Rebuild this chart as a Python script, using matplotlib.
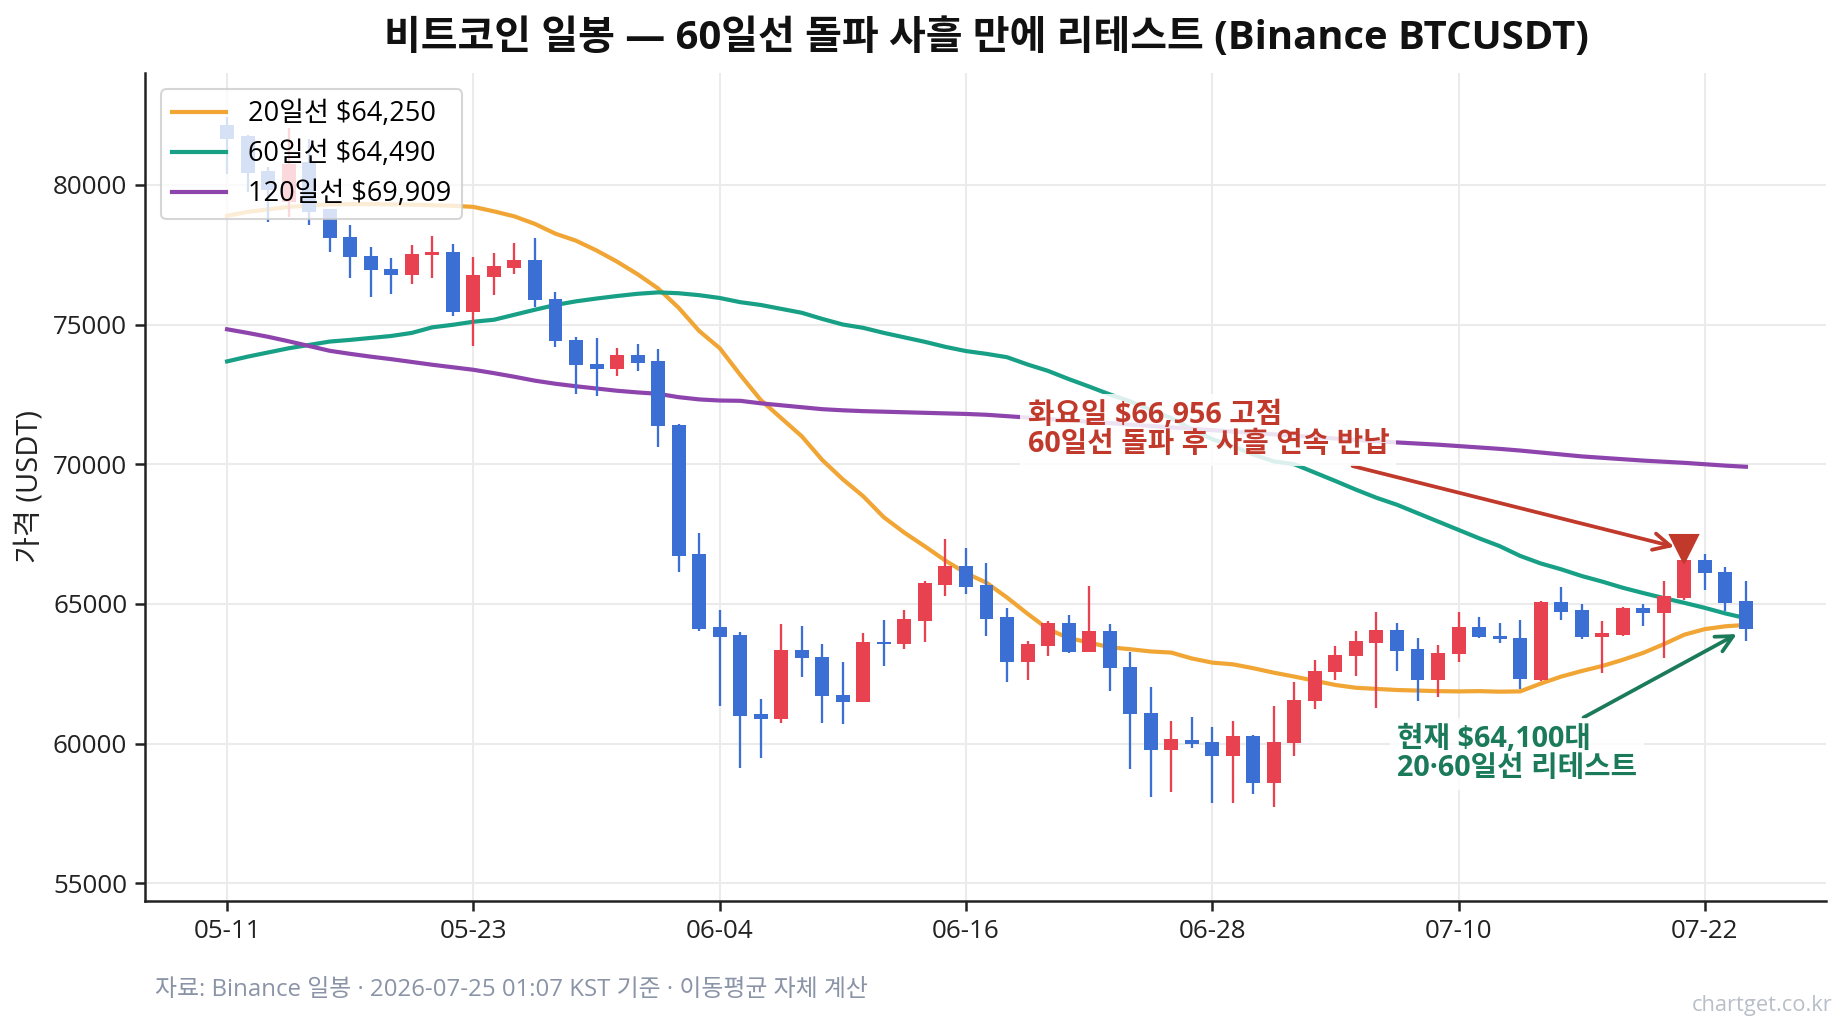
import matplotlib
matplotlib.use('Agg')
import matplotlib.pyplot as plt
import numpy as np
import pandas as pd

plt.rcParams['font.family'] = ['Open Sans', 'Noto Sans CJK KR', 'DejaVu Sans']

# ---------------- data ----------------
dates = pd.date_range('2026-05-11', periods=75, freq='D')

opens = [82150, 81750, 80490, 79390, 80820, 79120, 78140, 77465, 77000, 76775,
         77476, 77607, 75465, 76690, 77011, 77322, 75929, 74454, 73597, 73406,
         73894, 73680, 71417, 66776, 64180, 63894, 61062, 60870, 63359, 63109,
         61752, 61477, 63645, 63550, 64406, 65690, 66359, 65680, 64537, 62906,
         63502, 64323, 63264, 64038, 62752, 61110, 59763, 60143, 60073, 59548,
         60287, 58584, 60013, 61512, 62549, 63120, 63620, 64073, 63395, 62263,
         63192, 64180, 63859, 63787, 62287, 65073, 64787, 63800, 63894, 64859,
         64692, 65216, 66562, 66142, 65109]
highs = [82430, 81790, 80640, 82035, 81650, 79140, 78560, 77790, 77390, 77850,
         78180, 77890, 77400, 77550, 77900, 78080, 76180, 74570, 74510, 74155,
         74300, 74120, 71441, 67548, 64787, 64001, 61598, 64275, 64216, 63562,
         62906, 63978, 64430, 64800, 65823, 67334, 67012, 66478, 64859, 63680,
         64406, 64620, 65656, 64287, 63264, 62014, 60799, 60965, 60584, 60823,
         60322, 61360, 62216, 63002, 63502, 64038, 64716, 64323, 63799, 63537,
         64716, 64537, 64323, 64430, 65120, 65609, 65002, 64395, 64895, 65002,
         65823, 66956, 66776, 66333, 65823]
lows = [80400, 79750, 78680, 78860, 78570, 77580, 76650, 75980, 76080, 76440,
        76650, 75290, 74215, 76060, 76820, 75620, 74180, 72510, 72430, 73144,
        73320, 70610, 66155, 64037, 61359, 59120, 59478, 60727, 62370, 60742,
        60706, 61477, 62787, 63370, 63656, 65287, 65347, 63858, 62216, 62287,
        63145, 63228, 63264, 61895, 59085, 58085, 58288, 59836, 57860, 57860,
        58205, 57740, 59548, 61240, 62287, 62406, 61263, 62609, 61512, 61655,
        62906, 63776, 63609, 61955, 62240, 64442, 63740, 62513, 63847, 64228,
        63049, 65144, 65513, 64752, 63691]
closes = [81650, 80440, 79810, 80760, 79040, 78080, 77400, 76940, 76775, 77536,
          77596, 75465, 76761, 77083, 77322, 75869, 74418, 73561, 73406, 73894,
          73620, 71358, 66716, 64120, 63834, 61000, 60870, 63359, 63049, 61691,
          61477, 63645, 63550, 64466, 65750, 66359, 65620, 64478, 62906, 63573,
          64323, 63264, 64038, 62692, 61050, 59763, 60156, 60000, 59548, 60287,
          58584, 60073, 61574, 62609, 63180, 63680, 64073, 63323, 62263, 63252,
          64180, 63800, 63728, 62299, 65083, 64727, 63800, 63954, 64859, 64692,
          65275, 66562, 66097, 65048, 64100]

ma20 = [78890, 79030, 79120, 79210, 79260, 79300, 79310, 79310, 79300, 79290,
        79270, 79250, 79210, 79050, 78870, 78600, 78250, 78000, 77650, 77250,
        76800, 76290, 75600, 74770, 74155, 73200, 72300, 71650, 71000, 70150,
        69460, 68850, 68100, 67550, 67060, 66550, 66100, 65760, 65230, 64650,
        64100, 63780, 63620, 63450, 63380, 63300, 63260, 63050, 62900, 62840,
        62700, 62540, 62400, 62250, 62100, 62000, 61960, 61920, 61900, 61880,
        61870, 61880, 61860, 61870, 62150, 62400, 62600, 62780, 63000, 63250,
        63560, 63900, 64100, 64200, 64250]
ma60 = [73680, 73850, 74000, 74150, 74270, 74390, 74450, 74520, 74590, 74700,
        74900, 74990, 75100, 75170, 75350, 75530, 75700, 75830, 75930, 76020,
        76100, 76150, 76120, 76050, 75950, 75800, 75700, 75560, 75420, 75200,
        75000, 74880, 74700, 74540, 74380, 74200, 74050, 73950, 73830, 73570,
        73340, 73050, 72780, 72500, 72250, 71950, 71650, 71250, 70900, 70650,
        70350, 70100, 70000, 69700, 69400, 69090, 68800, 68550, 68250, 67950,
        67650, 67350, 67070, 66720, 66450, 66240, 66000, 65800, 65580, 65390,
        65210, 65040, 64860, 64660, 64490]
ma120 = [74830, 74700, 74560, 74400, 74230, 74060, 73950, 73850, 73760, 73660,
         73560, 73470, 73380, 73260, 73130, 72990, 72880, 72790, 72710, 72630,
         72570, 72520, 72400, 72320, 72280, 72270, 72180, 72110, 72040, 71970,
         71930, 71900, 71880, 71860, 71840, 71820, 71800, 71770, 71720, 71670,
         71620, 71570, 71520, 71470, 71420, 71370, 71320, 71270, 71220, 71170,
         71120, 71070, 71020, 70970, 70920, 70870, 70820, 70780, 70740, 70700,
         70650, 70600, 70550, 70490, 70420, 70350, 70280, 70230, 70180, 70130,
         70090, 70050, 70000, 69950, 69909]

tick_every = 12
title = '비트코인 일봉 — 60일선 돌파 사흘 만에 리테스트 (Binance BTCUSDT)'
note_high = '화요일 $66,956 고점\n60일선 돌파 후 사흘 연속 반납'
note_now = '현재 $64,100대\n20·60일선 리테스트'
footer = '자료: Binance 일봉 · 2026-07-25 01:07 KST 기준 · 이동평균 자체 계산'
brand = 'chartget.co.kr'

# ---------------- plot ----------------
UP = '#e8414f'
DOWN = '#3b6fd4'
C20 = '#f0a534'
C60 = '#17a085'
C120 = '#8e44ad'

fig = plt.figure(figsize=(1847 / 150, 1033 / 150), dpi=150)
ax = fig.add_axes([0.0785, 0.1278, 0.9101, 0.8015])

x = np.arange(len(dates))
o = np.array(opens); h = np.array(highs); l = np.array(lows); c = np.array(closes)
up = c >= o
cols = np.where(up, UP, DOWN)

ax.plot(x, ma20, color=C20, lw=2.0, zorder=2, label=f'20일선 ${ma20[-1]:,.0f}')
ax.plot(x, ma60, color=C60, lw=2.0, zorder=2, label=f'60일선 ${ma60[-1]:,.0f}')
ax.plot(x, ma120, color=C120, lw=2.0, zorder=2, label=f'120일선 ${ma120[-1]:,.0f}')

ax.vlines(x, l, h, colors=cols, lw=1.1, zorder=3)
ax.bar(x, np.maximum(np.abs(c - o), 40), bottom=np.minimum(o, c), width=0.68,
       color=cols, edgecolor='none', zorder=4)

hi_idx = int(np.argmax(h[60:])) + 60
ax.plot(hi_idx, h[hi_idx], marker='v', ms=13.5, color='#c0392b', zorder=6,
        linestyle='none')

ax.annotate(note_high, xy=(hi_idx, h[hi_idx]), xytext=(39, 71230),
            ha='left', va='center', fontsize=13.8, fontweight='bold', color='#c0392b',
            linespacing=1.0,
            bbox=dict(boxstyle='square,pad=0.25', fc='white', ec='none', alpha=0.85),
            arrowprops=dict(arrowstyle='->', color='#c0392b', lw=1.8,
                            shrinkA=0, shrinkB=5, mutation_scale=20),
            zorder=7)
ax.annotate(note_now, xy=(len(x) - 1, c[-1]), xytext=(57, 59640),
            ha='left', va='center', fontsize=13.8, fontweight='bold', color='#1a7a5a',
            linespacing=1.0,
            bbox=dict(boxstyle='square,pad=0.25', fc='white', ec='none', alpha=0.85),
            arrowprops=dict(arrowstyle='->', color='#1a7a5a', lw=1.8,
                            shrinkA=0, shrinkB=5, mutation_scale=20),
            zorder=7)

ax.set_xlim(-4.0, 77.9)
ax.set_ylim(54370, 84000)
ticks = x[::tick_every]
ax.set_xticks(ticks)
ax.set_xticklabels([dates[i].strftime('%m-%d') for i in ticks])
ax.set_yticks(np.arange(55000, 80001, 5000))
ax.tick_params(axis='both', labelsize=12.5, colors='#222222', length=5, width=1.2)
ax.grid(True, color='#ebebeb', lw=1.0, zorder=0)
ax.set_axisbelow(True)
for s in ['top', 'right']:
    ax.spines[s].set_visible(False)
for s in ['left', 'bottom']:
    ax.spines[s].set_color('#222222')
    ax.spines[s].set_linewidth(1.2)

leg = ax.legend(loc='upper left', fontsize=13, framealpha=0.8, edgecolor='#cccccc',
                handlelength=2.0, borderaxespad=0.6, labelspacing=0.45)
leg.set_zorder(8)

fig.text(0.534, 0.963, title, ha='center', va='center', fontsize=19.2, fontweight='bold',
         color='#111111')
fig.text(0.016, 0.5286, '가격 (USDT)', rotation=90, ha='center', va='center',
         fontsize=14, color='#222222')
fig.text(0.084, 0.0416, footer, ha='left', va='center', fontsize=11.5, color='#8a94a6')
fig.text(0.992, 0.027, brand, ha='right', va='center', fontsize=10.5, color='#b8bfc9')

fig.savefig('out.png', dpi=150)
